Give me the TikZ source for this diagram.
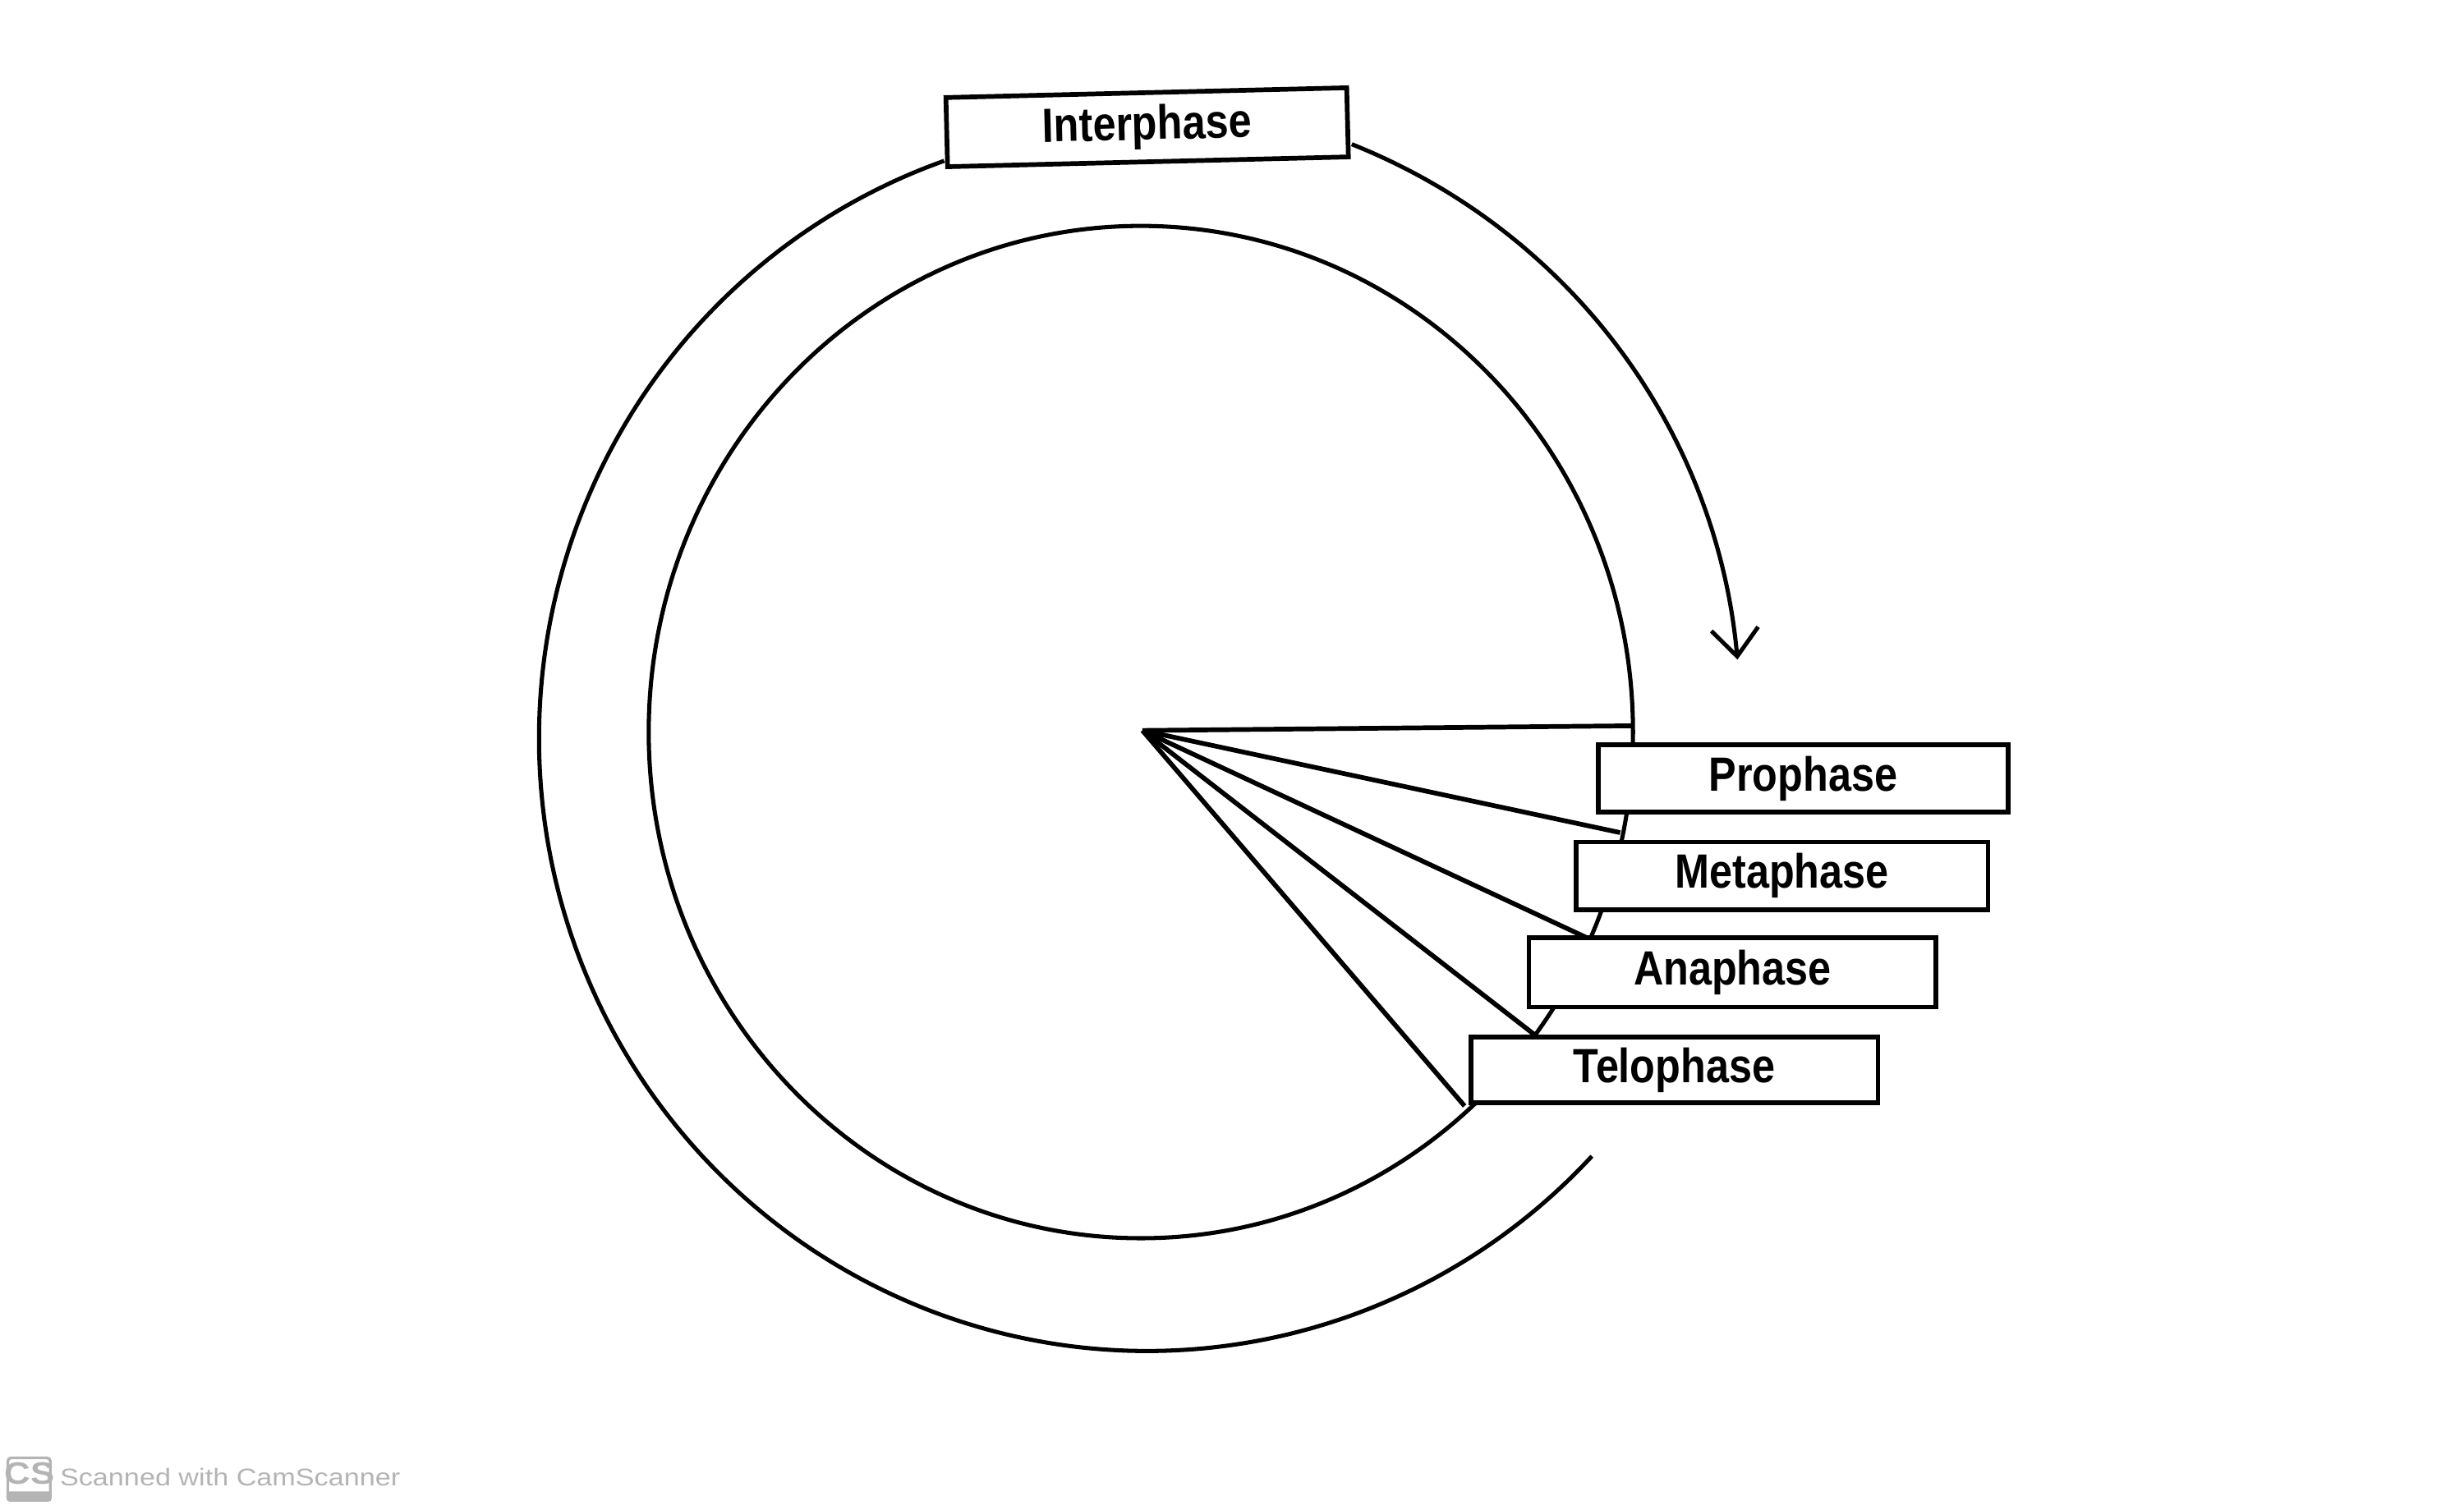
\documentclass[tikz,border=0pt]{standalone}
\usepackage{fontspec}
\usetikzlibrary{arrows.meta}
\newfontfamily\labfont[FakeStretch=0.86]{Liberation Sans}
\newfontfamily\wmfont[FakeStretch=1.16]{Liberation Sans}
\definecolor{wmgray}{HTML}{B4B4B4}
\begin{document}
\begin{tikzpicture}[x=0.01cm,y=-0.01cm,
  line/.style={line width=0.75pt,black},
  ray/.style={line width=0.85pt,black},
  phasebox/.style={draw,fill=white,line width=0.85pt,inner sep=0pt,
    font=\labfont\bfseries\fontsize{8.7}{10}\selectfont},
  wmtext/.style={text=wmgray,font=\wmfont\fontsize{4.38}{5}\selectfont,inner sep=0pt,anchor=west}
]
\useasboundingbox (0,0) rectangle (1568,961);

% outer arc (open at right side)
\draw[line] plot[domain=109.5:317,samples=120,smooth]
  ({730+387*cos(\x)},{470-390*sin(\x)});
% inner circle
\draw[line] (726,466) ellipse [x radius=3.13cm,y radius=3.22cm];

% centre and ray ends
\coordinate (c) at (727,465);
\coordinate (r1) at (1038,462);
\coordinate (r2) at (1031,530);
\coordinate (r3) at (1010,597);
\coordinate (r4) at (977,659);
\coordinate (r5) at (932,704);
\foreach \r in {r1,r2,r3,r4,r5}{\draw[ray] (c) -- (\r);}

% boxes
\node[phasebox,minimum width=2.55cm,minimum height=0.44cm,rotate=1.4] (inter) at (730,81) {\raisebox{-0.3pt}{Interphase}};
\node[phasebox,minimum width=2.61cm,minimum height=0.43cm] (pro) at (1147.5,495.5) {Prophase};
\node[phasebox,minimum width=2.62cm,minimum height=0.43cm] (meta) at (1134,557.5) {Metaphase};
\node[phasebox,minimum width=2.59cm,minimum height=0.44cm] (ana) at (1102.5,619) {Anaphase};
\node[phasebox,minimum width=2.59cm,minimum height=0.42cm] (telo) at (1065.5,681) {Telophase};

% arrow from Interphase round to Prophase
\draw[line,-{Straight Barb[length=5pt,width=8.5pt,line width=0.75pt]}]
  plot[domain=71:7.6,samples=60,smooth]
  ({730+(379+(\x-7.6)*0.331)*cos(\x)},{470-(379+(\x-7.6)*0.331)*sin(\x)});

% watermark
\node[draw=wmgray,line width=0.5pt,rounded corners=0.6pt,minimum width=0.27cm,minimum height=0.27cm,inner sep=0pt] (logo) at (18.5,941.5) {};
\fill[wmgray,rounded corners=0.6pt] (logo.south west) rectangle ([yshift=0.065cm]logo.south east);
\node[text=wmgray,font=\wmfont\bfseries\fontsize{5.6}{6}\selectfont,inner sep=0pt] (cs) at (19,938) {CS};
\node[wmtext] (wm) at (37.5,940.5) {Scanned with CamScanner};
\end{tikzpicture}
\end{document}
